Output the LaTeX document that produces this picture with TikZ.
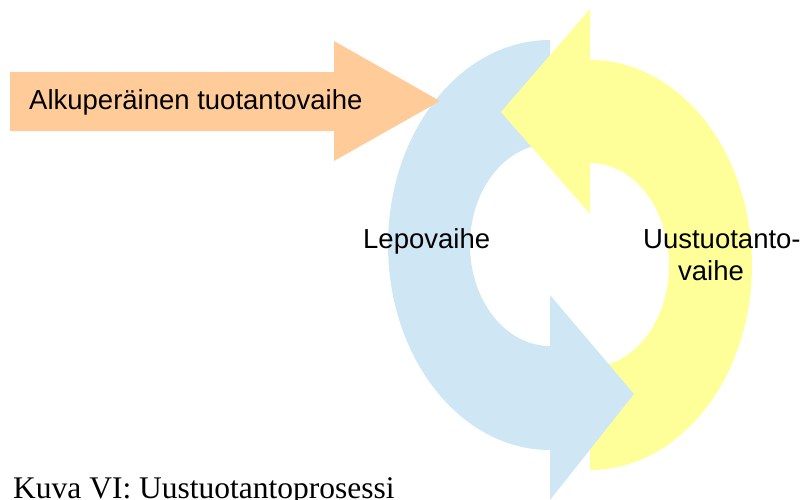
\documentclass[tikz,border=0pt]{standalone}
\usepackage{fontspec}
\setmainfont{Liberation Serif}
\setsansfont{Liberation Sans}
\definecolor{phaseorange}{HTML}{FFCC99}
\definecolor{phaseblue}{HTML}{CFE7F5}
\definecolor{phaseyellow}{HTML}{FFFF99}
\begin{document}
\begin{tikzpicture}[x=1pt,y=-1pt,
  label/.style={inner sep=0pt,font=\sffamily\fontsize{27.5}{32}\selectfont,text=black},
  caption/.style={inner sep=0pt,font=\rmfamily\fontsize{31.5}{36}\selectfont,text=black}]
\useasboundingbox (0,0) rectangle (803,499);

% resting phase: left half of the ring (body)
\fill[phaseblue] (550,40) arc[start angle=-90,end angle=-270,x radius=162,y radius=205]
  -- (550,346) arc[start angle=90,end angle=270,x radius=80,y radius=101] -- cycle;

% renewed production phase: right half of the ring with its head pointing left
\fill[phaseyellow] (590,470) arc[start angle=90,end angle=-90,x radius=162,y radius=205]
  -- (590,9) -- (501,112) -- (590,214) -- (590,163)
  arc[start angle=-90,end angle=90,x radius=79,y radius=102] -- cycle;

% head of the resting phase, lying over the yellow band
\fill[phaseblue] (550,450) -- (550,500) -- (634,394) -- (550,295) -- (550,346) -- cycle;

% original production phase arrow
\fill[phaseorange] (10,72) -- (334,72) -- (334,41) -- (440,101) -- (334,161) -- (334,131) -- (10,131) -- cycle;

\node[label,anchor=base west] (orig) at (29,109) {Alkuperäinen tuotantovaihe};
\node[label,anchor=base west] (rest) at (363,248) {Lepovaihe};
\node[label,anchor=base west] (renew1) at (643,248) {Uustuotanto-};
\node[label,anchor=base] (renew2) at (711,280) {vaihe};

\node[caption,anchor=base west] (cap) at (13,498) {Kuva VI: Uustuotantoprosessi};
\end{tikzpicture}
\end{document}
